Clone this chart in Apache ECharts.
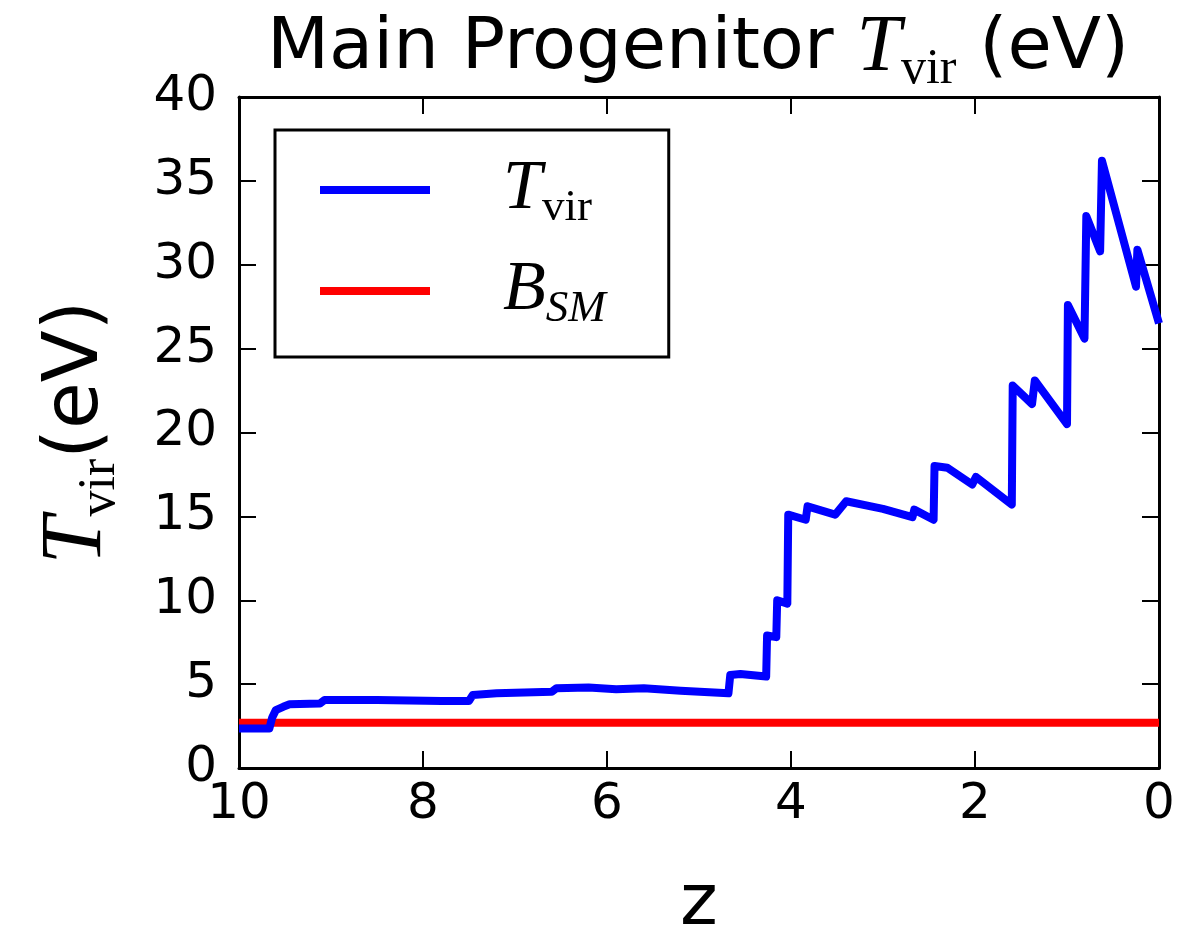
<!DOCTYPE html>
<html>
<head>
<meta charset="utf-8">
<title>Main Progenitor T_vir</title>
<script src="https://cdn.jsdelivr.net/npm/echarts@6/dist/echarts.min.js"></script>
<style>
  html, body { margin: 0; padding: 0; background: #fff; }
  #chart { width: 1184px; height: 936px; }
</style>
</head>
<body>
<div id="chart"></div>
<script>
// Redshift samples along the main progenitor branch (z decreasing toward today)
const zValues = [
  10.0, 9.67, 9.64, 9.60, 9.52, 9.45, 9.12, 9.07, 8.5, 7.8, 7.50, 7.46, 7.2, 6.9, 6.6,
  6.55, 6.2, 5.9, 5.6, 5.2, 4.68, 4.66, 4.55, 4.27, 4.26, 4.16, 4.15, 4.04, 4.03,
  3.84, 3.82, 3.52, 3.40, 3.0, 2.68, 2.66, 2.45, 2.44, 2.3, 2.03, 1.99, 1.60, 1.59,
  1.38, 1.35, 1.00, 0.99, 0.81, 0.79, 0.64, 0.62, 0.25, 0.235, 0.0
];
// Virial temperature of the main progenitor (eV)
const tvirValues = [
  2.35, 2.35, 3.0, 3.45, 3.65, 3.8, 3.85, 4.05, 4.05, 4.0, 4.0, 4.35, 4.45, 4.5, 4.55,
  4.75, 4.8, 4.7, 4.75, 4.6, 4.45, 5.55, 5.6, 5.45, 7.9, 7.8, 10.0, 9.8, 15.1,
  14.8, 15.6, 15.1, 15.9, 15.45, 14.95, 15.4, 14.8, 18.0, 17.9, 16.9, 17.35, 15.7, 22.8,
  21.7, 23.1, 20.5, 27.6, 25.6, 32.9, 30.8, 36.2, 28.7, 30.9, 26.5
];
// Reference binding energy level, constant over the redshift range
const bsmZ = [10, 0];
const bsmValues = [2.7, 2.7];

const zTicks = [10, 8, 6, 4, 2, 0];
const tTicks = [0, 5, 10, 15, 20, 25, 30, 35, 40];

const SANS = 'DejaVu Sans';
const SERIF = 'Liberation Serif';

const tvirData = zValues.map((z, i) => [z, tvirValues[i]]);
const bsmData = bsmZ.map((z, i) => [z, bsmValues[i]]);

// Rich-text styles for "symbol with subscript" labels
function mathRich(big, small, sans) {
  const base = { color: '#000', fontWeight: 'normal' };
  return {
    a: Object.assign({ fontFamily: SANS, fontSize: sans, lineHeight: big + 12, verticalAlign: 'middle' }, base),
    t: Object.assign({ fontFamily: SERIF, fontStyle: 'italic', fontSize: big, lineHeight: big + 12, verticalAlign: 'middle' }, base),
    s: Object.assign({ fontFamily: SERIF, fontSize: small, lineHeight: small - 4, verticalAlign: 'bottom' }, base),
    si: Object.assign({ fontFamily: SERIF, fontStyle: 'italic', fontSize: small, lineHeight: small - 4, verticalAlign: 'bottom' }, base)
  };
}

function axisLine() {
  return { show: true, onZero: false, lineStyle: { color: '#000', width: 3 } };
}
function axisTick() {
  return { show: true, inside: true, length: 17, lineStyle: { color: '#000', width: 2 } };
}

const chart = echarts.init(document.getElementById('chart'), null, { renderer: 'canvas' });

chart.setOption({
  animation: false,
  backgroundColor: '#fff',
  title: {
    text: '{a|Main Progenitor }{t|T}{s|vir}{a| (eV)}',
    left: 262,
    top: -2,
    textStyle: { fontWeight: 'normal', rich: mathRich(80, 50, 72) }
  },
  grid: { left: 239, right: 25, top: 97, bottom: 168, outerBoundsMode: 'none', containLabel: false },
  legend: {
    data: ['tvir', 'bsm'],
    orient: 'vertical',
    left: 275,
    top: 130,
    padding: [25, 63, 25, 45],
    itemGap: 25,
    itemWidth: 110,
    itemHeight: 8,
    icon: 'rect',
    borderColor: '#000',
    borderWidth: 3,
    borderRadius: 0,
    backgroundColor: '#fff',
    selectedMode: false,
    formatter: name => name === 'tvir' ? '{p|}{t|T}{s|vir}' : '{p|}{t|B}{si|SM}',
    textStyle: {
      rich: Object.assign(mathRich(70, 45, 48), { p: { width: 68 } })
    }
  },
  xAxis: [
    {
      type: 'value', min: 0, max: 10, interval: 2, inverse: true,
      name: 'z', nameLocation: 'middle', nameGap: 101,
      nameTextStyle: { fontFamily: SANS, fontSize: 72, color: '#000' },
      axisLine: axisLine(), axisTick: axisTick(),
      axisLabel: {
        color: '#000', fontFamily: SANS, fontSize: 50, margin: 12,
        formatter: v => zTicks.includes(v) ? String(v) : ''
      },
      splitLine: { show: false }
    },
    {
      type: 'value', min: 0, max: 10, interval: 2, inverse: true, position: 'top',
      axisLine: axisLine(), axisTick: axisTick(), axisLabel: { show: false }, splitLine: { show: false }
    }
  ],
  yAxis: [
    {
      type: 'value', min: 0, max: 40, interval: 5,
      name: '{t|T}{s|vir}{a|(eV)}', nameLocation: 'middle', nameGap: 113, nameRotate: 90,
      nameTextStyle: { rich: mathRich(86, 52, 76) },
      axisLine: axisLine(), axisTick: axisTick(),
      axisLabel: {
        color: '#000', fontFamily: SANS, fontSize: 50, margin: 22,
        formatter: v => tTicks.includes(v) ? String(v) : ''
      },
      splitLine: { show: false }
    },
    {
      type: 'value', min: 0, max: 40, interval: 5, position: 'right',
      axisLine: axisLine(), axisTick: axisTick(), axisLabel: { show: false }, splitLine: { show: false }
    }
  ],
  series: [
    {
      name: 'bsm', type: 'line', data: bsmData,
      showSymbol: false, symbol: 'none', clip: true,
      lineStyle: { color: '#ff0000', width: 8, cap: 'butt' },
      itemStyle: { color: '#ff0000' }, z: 2
    },
    {
      name: 'tvir', type: 'line', data: tvirData,
      showSymbol: false, symbol: 'none', clip: true,
      lineStyle: { color: '#0000ff', width: 8, join: 'round', cap: 'butt' },
      itemStyle: { color: '#0000ff' }, z: 3
    }
  ]
});
</script>
</body>
</html>
